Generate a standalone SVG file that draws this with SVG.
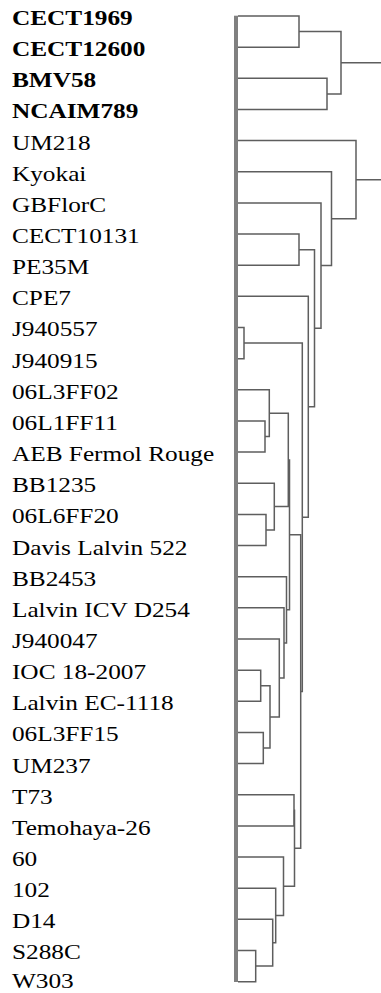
<svg xmlns="http://www.w3.org/2000/svg" width="381" height="993" viewBox="0 0 381 993">
<style>
.lbl{font-family:"Liberation Serif","Times New Roman",serif;font-size:22px;fill:#000}
.b{font-weight:bold}
.ln{fill:none;stroke:#5e5e5e;stroke-width:1.5}
</style>
<rect width="381" height="993" fill="#fff"/>
<g id="axis"><rect x="234" y="15.7" width="4" height="966.3" fill="#808080"/></g>
<g id="labels" transform="scale(1.15,1)">
<g id="leaf-CECT1969"><text class="lbl b" x="10.4" y="25">CECT1969</text></g>
<g id="leaf-CECT12600"><text class="lbl b" x="10.4" y="56.15">CECT12600</text></g>
<g id="leaf-BMV58"><text class="lbl b" x="10.4" y="87.3">BMV58</text></g>
<g id="leaf-NCAIM789"><text class="lbl b" x="10.4" y="118.45">NCAIM789</text></g>
<g id="leaf-UM218"><text class="lbl" x="10.4" y="149.6">UM218</text></g>
<g id="leaf-Kyokai"><text class="lbl" x="10.4" y="180.75">Kyokai</text></g>
<g id="leaf-GBFlorC"><text class="lbl" x="10.4" y="211.9">GBFlorC</text></g>
<g id="leaf-CECT10131"><text class="lbl" x="10.4" y="243.05">CECT10131</text></g>
<g id="leaf-PE35M"><text class="lbl" x="10.4" y="274.2">PE35M</text></g>
<g id="leaf-CPE7"><text class="lbl" x="10.4" y="305.35">CPE7</text></g>
<g id="leaf-J940557"><text class="lbl" x="10.4" y="336.5">J940557</text></g>
<g id="leaf-J940915"><text class="lbl" x="10.4" y="367.65">J940915</text></g>
<g id="leaf-06L3FF02"><text class="lbl" x="10.4" y="398.8">06L3FF02</text></g>
<g id="leaf-06L1FF11"><text class="lbl" x="10.4" y="429.95">06L1FF11</text></g>
<g id="leaf-AEB"><text class="lbl" x="10.4" y="461.1">AEB Fermol Rouge</text></g>
<g id="leaf-BB1235"><text class="lbl" x="10.4" y="492.25">BB1235</text></g>
<g id="leaf-06L6FF20"><text class="lbl" x="10.4" y="523.4">06L6FF20</text></g>
<g id="leaf-Davis"><text class="lbl" x="10.4" y="554.55">Davis Lalvin 522</text></g>
<g id="leaf-BB2453"><text class="lbl" x="10.4" y="585.7">BB2453</text></g>
<g id="leaf-D254"><text class="lbl" x="10.4" y="616.85">Lalvin ICV D254</text></g>
<g id="leaf-J940047"><text class="lbl" x="10.4" y="648">J940047</text></g>
<g id="leaf-IOC"><text class="lbl" x="10.4" y="679.15">IOC 18-2007</text></g>
<g id="leaf-EC1118"><text class="lbl" x="10.4" y="710.3">Lalvin EC-1118</text></g>
<g id="leaf-06L3FF15"><text class="lbl" x="10.4" y="741.45">06L3FF15</text></g>
<g id="leaf-UM237"><text class="lbl" x="10.4" y="772.6">UM237</text></g>
<g id="leaf-T73"><text class="lbl" x="10.4" y="803.75">T73</text></g>
<g id="leaf-Temohaya"><text class="lbl" x="10.4" y="834.9">Temohaya-26</text></g>
<g id="leaf-60"><text class="lbl" x="10.4" y="866.05">60</text></g>
<g id="leaf-102"><text class="lbl" x="10.4" y="897.2">102</text></g>
<g id="leaf-D14"><text class="lbl" x="10.4" y="928.35">D14</text></g>
<g id="leaf-S288C"><text class="lbl" x="10.4" y="959.5">S288C</text></g>
<g id="leaf-W303"><text class="lbl" x="10.4" y="988">W303</text></g>
</g>
<g id="connectors" class="ln">
<path d="M238 16H299V47.15H238"/>
<path d="M238 78.3H327V109.45H238"/>
<path d="M299 31.575H341V93.875H327M341 62.725H381"/>
<path d="M238 140.6H356V218.66H331.5M356 179.63H381"/>
<path d="M238 171.75H331.5V265.57H321"/>
<path d="M238 202.9H321V328.23H314.5"/>
<path d="M238 234.05H299V265.2H238"/>
<path d="M299 249.625H314.5V406.84H308.3"/>
<path d="M238 296.35H308.3V517.32H302.3"/>
<path d="M238 327.5H244V358.65H238"/>
<path d="M244 343.075H302.3V691.57H300.7"/>
<path d="M289.5 534.85H300.7V848.29H294.5"/>
<path d="M238 420.95H265V452.1H238"/>
<path d="M238 389.8H269.3V436.525H265"/>
<path d="M238 514.4H266V545.55H238"/>
<path d="M238 483.25H274.3V529.975H266"/>
<path d="M269.3 413.16H288.3V506.61H274.3"/>
<path d="M288.3 459.89H289.5V609.8H286.5"/>
<path d="M238 576.7H286.5V642.89H284"/>
<path d="M238 607.85H284V677.94H279.3"/>
<path d="M238 639H279.3V716.875H270"/>
<path d="M238 670.15H260.7V701.3H238"/>
<path d="M238 732.45H263.3V763.6H238"/>
<path d="M260.7 685.725H270V748.025H263.3"/>
<path d="M238 794.75H294V825.9H238"/>
<path d="M294 810.325H294.5V886.25H283.5"/>
<path d="M238 857.05H283.5V915.46H275.7"/>
<path d="M238 888.2H275.7V942.71H272.7"/>
<path d="M238 919.35H272.7V966.075H255.7"/>
<path d="M238 950.5H255.7V981.65H238"/>
</g>
</svg>
